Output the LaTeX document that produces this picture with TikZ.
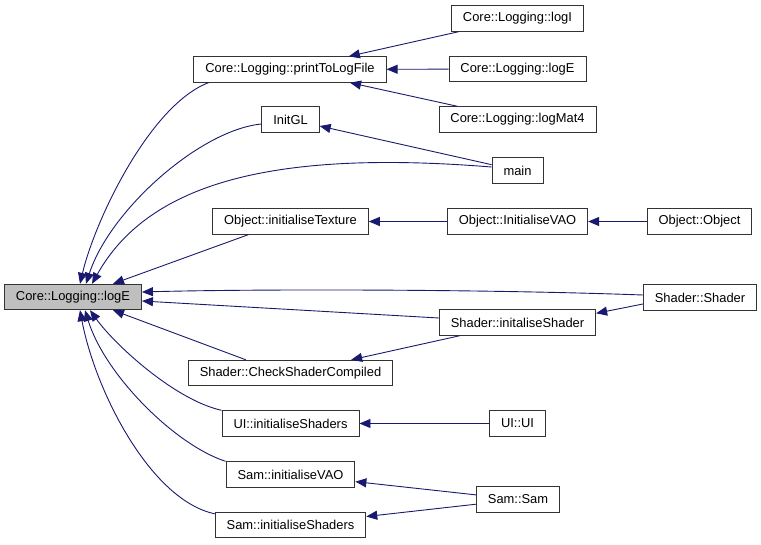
\documentclass[tikz,border=0pt]{standalone}
\usepackage{fontspec}
\setmainfont{Liberation Sans}
\usetikzlibrary{arrows.meta}
\definecolor{callline}{HTML}{191970}
\definecolor{focus}{HTML}{BFBFBF}
\begin{document}
\begin{tikzpicture}[x=1pt,y=-1pt,
  fn/.style={draw=black!80,line width=0.9pt,fill=white,inner xsep=11.5pt,inner ysep=0pt,
    minimum height=25.5pt,font=\fontsize{12.9}{15}\selectfont},
  call/.style={callline,line width=0.9pt,-{Triangle[length=11pt,width=9pt]}}]
  \useasboundingbox (0,0) rectangle (761,544);
  % function boxes
  \node[fn,fill=focus] (logE) at (73,297) {Core::Logging::logE};
  \foreach \n/\x/\y/\lbl in {printlog/290/69.5/Core::Logging::printToLogFile,
      initgl/290.5/119.5/InitGL, inittex/290.5/221.5/Object::initialiseTexture,
      checksh/290.5/373/Shader::CheckShaderCompiled, uiinitsh/290.5/423.5/UI::initialiseShaders,
      saminitvao/290.5/474.5/Sam::initialiseVAO, saminitsh/290.5/525/Sam::initialiseShaders,
      logI/517.5/18.5/Core::Logging::logI, logEr/517.5/69/Core::Logging::logE,
      logMat/517.5/119.5/Core::Logging::logMat4, main/517.5/170.5/main,
      initvao/517.5/221.5/Object::InitialiseVAO, initsh/517.5/322.5/Shader::initaliseShader,
      uiui/517.5/423.5/UI::UI, samsam/518/499.5/Sam::Sam,
      objobj/699.5/221.5/Object::Object, shadersh/700/297.5/Shader::Shader}
    \node[fn] (\n) at (\x,\y) {\lbl};
  % straight calls
  \foreach \a/\b in {logI/printlog, logEr/printlog, logMat/printlog, main/initgl,
      objobj/initvao, initvao/inittex, uiui/uiinitsh, samsam/saminitvao, samsam/saminitsh}
    \draw[call] (\a) -- (\b);
  \draw[call] ([xshift=36pt]inittex.south west) -- ([xshift=40pt]logE.north);
  \draw[call] ([yshift=4.5pt]initsh.west) -- ([yshift=-4pt]logE.east);
  \draw[call] ([yshift=-6.5pt]shadersh.west) -- ([yshift=-4pt]initsh.north east);
  \draw[call] ([xshift=21pt]initsh.south west) -- ([xshift=-42pt]checksh.north east);
  \draw[call] ([xshift=58pt]checksh.north west) -- ([xshift=40pt]logE.south);
  % curved calls into logE
  \draw[call] ([yshift=2.5pt]shadersh.west) .. controls (480,289) and (250,289) .. ([yshift=5pt]logE.east);
  \draw[call] ([xshift=15pt]printlog.south west) .. controls (150,105) and (95,220) .. ([xshift=7pt]logE.north);
  \draw[call] ([yshift=-4.5pt]initgl.west) .. controls (200,130) and (110,210) .. ([xshift=13pt]logE.north);
  \draw[call] ([yshift=3.5pt]main.west) .. controls (280,150) and (150,180) .. ([xshift=19pt]logE.north);
  \draw[call] (uiinitsh.north west) .. controls (175,400) and (115,345) .. ([xshift=17pt]logE.south);
  \draw[call] (saminitvao.north west) .. controls (175,445) and (105,375) .. ([xshift=12pt]logE.south);
  \draw[call] ([yshift=-2pt]saminitsh.north west) .. controls (150,500) and (95,390) .. ([xshift=7pt]logE.south);
\end{tikzpicture}
\end{document}
